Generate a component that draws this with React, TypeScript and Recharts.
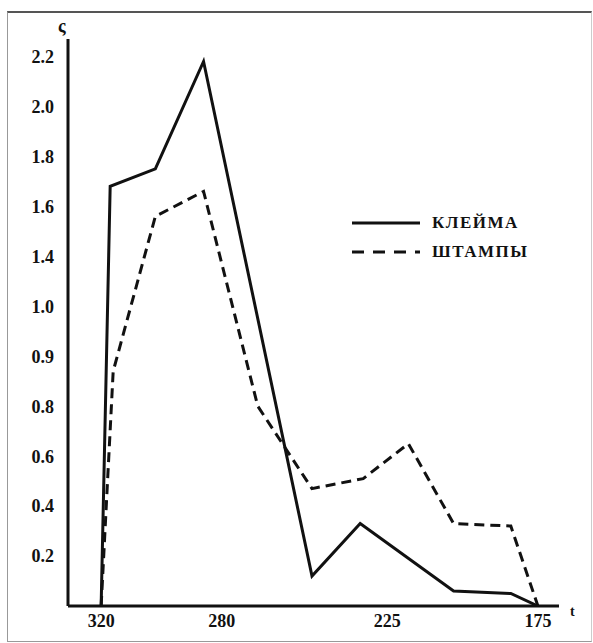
import { LineChart, Line, XAxis, YAxis, Legend } from 'recharts'

// y axis in the source is not linear: ticks are evenly spaced but labelled unevenly
const Y_STEPS = [0, 0.2, 0.4, 0.6, 0.8, 0.9, 1.0, 1.4, 1.6, 1.8, 2.0, 2.2]
const Y_LABELS = ['', '0.2', '0.4', '0.6', '0.8', '0.9', '1.0', '1.4', '1.6', '1.8', '2.0', '2.2']

const X_TICKS = [320, 280, 225, 175]

const KLEIMA_X = [320, 317, 302, 286, 250, 234, 203, 184, 175]
const KLEIMA_Y = [0, 1.68, 1.75, 2.18, 0.12, 0.33, 0.06, 0.05, 0]

const SHTAMPY_X = [320, 316, 302, 286, 268, 250, 233, 218, 203, 184, 175]
const SHTAMPY_Y = [0, 0.87, 1.56, 1.66, 0.8, 0.47, 0.51, 0.65, 0.33, 0.32, 0]

const FONT = '"Liberation Serif", "DejaVu Serif", serif'
const INK = '#111'

// value -> evenly spaced tick position
const toPos = (v: number) => {
  for (let i = 1; i < Y_STEPS.length; i++) {
    if (v <= Y_STEPS[i]) {
      const lo = Y_STEPS[i - 1]
      const hi = Y_STEPS[i]
      return i - 1 + (v - lo) / (hi - lo)
    }
  }
  return Y_STEPS.length - 1
}

const build = (xs: number[], ys: number[]) =>
  xs.map((x, i) => ({ x, value: ys[i], pos: toPos(ys[i]) }))

const kleimaData = build(KLEIMA_X, KLEIMA_Y)
const shtampyData = build(SHTAMPY_X, SHTAMPY_Y)

const LegendBox = () => (
  <div style={{ fontFamily: FONT, fontWeight: 700, fontSize: 17, color: INK }}>
    <div style={{ display: 'flex', alignItems: 'center', height: 29 }}>
      <svg width={70} height={6}>
        <line x1={0} y1={3} x2={68} y2={3} stroke={INK} strokeWidth={3} />
      </svg>
      <span style={{ marginLeft: 10, letterSpacing: 1.5 }}>КЛЕЙМА</span>
    </div>
    <div style={{ display: 'flex', alignItems: 'center', height: 29 }}>
      <svg width={70} height={6}>
        <line x1={0} y1={3} x2={68} y2={3} stroke={INK} strokeWidth={3} strokeDasharray="12 9" />
      </svg>
      <span style={{ marginLeft: 10, letterSpacing: 1.5 }}>ШТАМПЫ</span>
    </div>
  </div>
)

export default function App() {
  return (
    <div style={{ position: 'absolute', left: 0, top: 0, width: 593, height: 643, background: '#fff' }}>
      <div
        style={{
          position: 'absolute',
          left: 7,
          top: 11,
          width: 583,
          height: 628,
          borderTop: '2px solid #555',
          borderLeft: '1px solid #999',
          borderBottom: '1px solid #999',
          borderRight: '1px solid #ccc',
        }}
      />
      <LineChart
        width={593}
        height={643}
        margin={{ top: 39, right: 34, bottom: 7, left: 28 }}
        style={{ position: 'absolute', left: 0, top: 0, fontFamily: FONT }}
      >
        <XAxis
          type="number"
          dataKey="x"
          domain={[168, 331]}
          reversed
          allowDataOverflow
          ticks={X_TICKS}
          height={30}
          tickLine={false}
          tickSize={0}
          tickMargin={8}
          axisLine={{ stroke: INK, strokeWidth: 3 }}
          tick={{ fill: INK, fontSize: 18, fontWeight: 700, fontFamily: FONT }}
        />
        <YAxis
          type="number"
          dataKey="pos"
          domain={[0, 11.35]}
          allowDataOverflow
          ticks={[1, 2, 3, 4, 5, 6, 7, 8, 9, 10, 11]}
          tickFormatter={(v: number) => Y_LABELS[Math.round(v)]}
          width={40}
          tickLine={false}
          tickSize={0}
          tickMargin={14}
          axisLine={{ stroke: INK, strokeWidth: 3 }}
          tick={{ fill: INK, fontSize: 18, fontWeight: 700, fontFamily: FONT }}
        />
        <Legend
          layout="vertical"
          verticalAlign="middle"
          align="center"
          wrapperStyle={{ left: 352, top: 208, width: 200 }}
          content={() => <LegendBox />}
        />
        <Line
          data={kleimaData}
          dataKey="pos"
          name="КЛЕЙМА"
          type="linear"
          stroke={INK}
          strokeWidth={3}
          dot={false}
          isAnimationActive={false}
        />
        <Line
          data={shtampyData}
          dataKey="pos"
          name="ШТАМПЫ"
          type="linear"
          stroke={INK}
          strokeWidth={3}
          strokeDasharray="10 6"
          dot={false}
          isAnimationActive={false}
        />
      </LineChart>
      <span
        style={{
          position: 'absolute',
          left: 58,
          top: 16,
          fontFamily: FONT,
          fontWeight: 700,
          fontSize: 18,
          color: INK,
        }}
      >
        ς
      </span>
      <span
        style={{
          position: 'absolute',
          left: 570,
          top: 604,
          fontFamily: FONT,
          fontWeight: 700,
          fontSize: 14,
          color: INK,
        }}
      >
        t
      </span>
    </div>
  )
}
